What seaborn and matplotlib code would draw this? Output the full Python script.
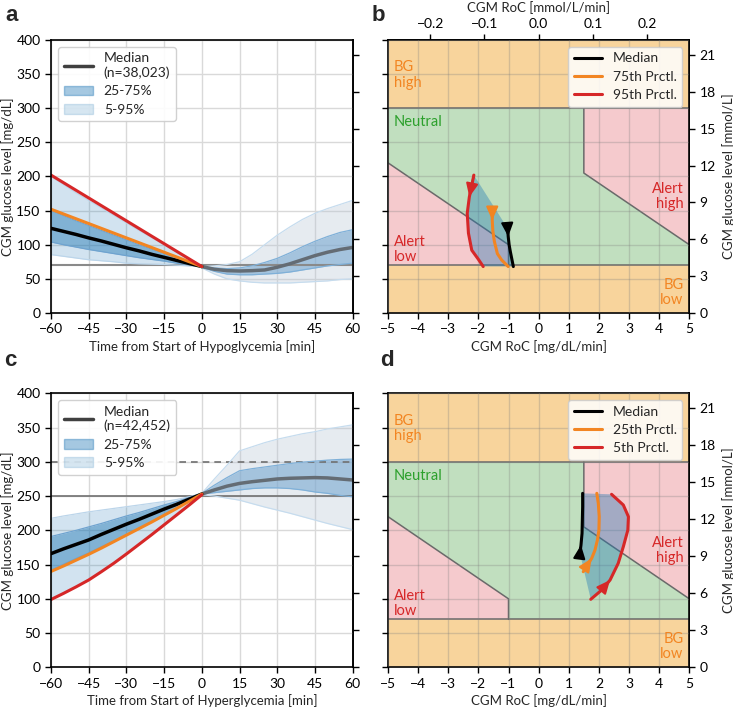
import seaborn as sns
import matplotlib.pyplot as plt
from matplotlib.lines import Line2D
from matplotlib.patches import Patch

MMOL = 18.0  # mg/dL per mmol/L

# ---- panel a / c : glucose around start of event -------------------------
t_pre = [-60, -55, -50, -45, -40, -35, -30, -25, -20, -15, -10, -5, 0]
t_post = [0, 5, 10, 15, 20, 25, 30, 35, 40, 45, 50, 55, 60]

hypo_med_pre = [124, 119.5, 115, 110, 105.5, 100.5, 95.5, 91, 86, 81.5, 77, 72.5, 68]
hypo_q25_pre = [104, 100, 96.5, 93, 90, 87, 84, 81, 78.5, 76, 73, 70.5, 68]
hypo_q75_pre = [150, 142.5, 135, 128, 121, 114, 107, 100, 93.5, 87, 80.5, 74, 68]
hypo_q05_pre = [85.5, 83, 80.5, 78, 76.5, 75, 73, 72, 71.5, 71, 70, 69, 68]
hypo_q95_pre = [200, 188, 176, 165, 154, 143, 132, 121, 110.5, 100, 89, 78.5, 68]
hypo_med_post = [68, 64, 62, 61.5, 62, 63, 67, 72, 78, 84, 89, 93, 96]
hypo_q25_post = [67, 61, 57, 56, 56, 57, 58, 60, 63, 66, 69, 71, 73]
hypo_q75_post = [68, 66, 65, 66, 69, 74, 80, 88, 97, 105, 112, 118, 122]
hypo_q05_post = [66, 57, 50, 47, 45, 44, 44, 44, 45, 46, 47, 49, 50]
hypo_q95_post = [68, 69, 71, 75, 86, 100, 114, 126, 137, 146, 153, 159, 165]
hypo_line_t = [-60, 0]
hypo_p75_line = [152, 68]
hypo_p95_line = [202, 68]

hyper_med_pre = [166, 173, 179.5, 186, 194, 201.5, 209, 216, 223.5, 231, 238, 245.5, 253]
hyper_q25_pre = [142, 150.5, 159, 167, 176, 184.5, 193, 203, 212.5, 222, 232, 242.5, 253]
hyper_q75_pre = [191, 195.5, 200, 205, 210, 215.5, 221, 226, 231.5, 237, 242, 248, 254]
hyper_q05_pre = [100, 109, 118, 128, 140, 152, 165, 179, 193.5, 208, 222.5, 237, 252]
hyper_q95_pre = [217.5, 221, 224, 227, 229.5, 232, 234.5, 237, 239.5, 242, 245, 249, 254]
hyper_med_post = [253, 259, 264.5, 268.5, 271, 273, 275, 276, 276.5, 277, 276.5, 275, 273.5]
hyper_q25_post = [253, 255, 257, 259, 261, 262, 262, 261, 259, 256, 254, 251, 249]
hyper_q75_post = [254, 266, 277, 287, 290, 292.5, 295, 297.5, 299.5, 301, 302.5, 303.5, 304]
hyper_q05_post = [252, 250, 247, 244, 239, 234, 229.5, 225, 220, 215, 210, 205.5, 201]
hyper_q95_post = [254, 275, 295, 316, 322, 328, 333, 337, 341, 344, 348, 351, 354]
hyper_line_t = t_pre
hyper_p25_line = [140, 148, 156.5, 165, 174, 183.5, 193, 202.5, 212, 222, 232, 242.5, 253]
hyper_p05_line = [99, 108, 117.5, 127.5, 139.5, 152, 165.5, 179.5, 193.5, 208, 222.5, 237, 252]

# ---- panel b / d : glucose vs rate of change ---------------------------
b_med_roc = [-1.03, -1.01, -0.98, -0.94, -0.89, -0.84]
b_med_glu = [124, 112, 100, 90, 79, 68]
b_p75_roc = [-1.54, -1.54, -1.52, -1.47, -1.37, -1.23, -1.01]
b_p75_glu = [152, 136, 120, 105, 87, 77.7, 68]
b_p95_roc = [-2.15, -2.30, -2.37, -2.33, -2.22, -2.00, -1.84]
b_p95_glu = [202, 170, 146, 117, 92, 78.6, 68]

d_med_roc = [1.37, 1.405, 1.44, 1.45, 1.46, 1.46]
d_med_glu = [166.4, 178.5, 195.6, 215, 234.5, 254]
d_p25_roc = [1.48, 1.65, 1.76, 1.87, 1.95, 2.00, 2.01, 1.98, 1.93]
d_p25_glu = [139.6, 151.8, 159.1, 171.2, 185.8, 200.4, 219.9, 239.4, 254]
d_p05_roc = [1.73, 2.09, 2.37, 2.64, 2.81, 2.96, 2.98, 2.81, 2.42]
d_p05_glu = [99.3, 112.8, 127.4, 151.8, 176.1, 200.4, 219.9, 237, 252.6]

# zone corners [RoC mg/dL/min, glucose mg/dL]
alert_high_roc = [1.5, 1.5, 5, 5]
alert_high_glu = [300, 205, 100, 300]
alert_low_roc = [-5, -5, -1, -1]
alert_low_glu = [70, 220, 100, 70]

BLUE = "tab:blue"
ORANGE = "#f28522"
RED = "#d62728"
C_ORANGE_ZONE = "#f8d49c"
C_GREEN_ZONE = "#c1dfbf"
C_RED_ZONE = "#f5cacd"

sns.set_theme(style="ticks")
plt.rcParams["font.family"] = ["Lato", "DejaVu Sans"]
plt.rcParams["axes.edgecolor"] = "black"
plt.rcParams["xtick.color"] = "black"
plt.rcParams["ytick.color"] = "black"

fig = plt.figure(figsize=(7.33, 7.10), dpi=100)


def to_mmol(v):
    return v / MMOL


def to_mgdl(v):
    return v * MMOL


def time_panel(ax, t_pre, t_post, med_pre, q25_pre, q75_pre, q05_pre, q95_pre,
               med_post, q25_post, q75_post, q05_post, q95_post,
               line_t, l1, l2, n_text, xlabel, hyper):
    ax.grid(True, color="#d9d9d9", lw=1)
    ax.set_axisbelow(True)
    # bands before start
    ax.fill_between(t_pre, q05_pre, q95_pre, color=BLUE, alpha=0.2, lw=0)
    ax.fill_between(t_pre, q25_pre, q75_pre, color=BLUE, alpha=0.45, lw=0)
    # bands after start (greyed out)
    ax.fill_between(t_post, q05_post, q95_post, color="#b8c6d6", alpha=0.35, lw=0)
    ax.fill_between(t_post, q25_post, q75_post, color="#6fa3cf", alpha=0.55, lw=0)
    for t, q, c in [(t_pre, q05_pre, "#bcd5ea"), (t_pre, q95_pre, "#bcd5ea"),
                    (t_pre, q25_pre, "#6fa3cf"), (t_pre, q75_pre, "#6fa3cf"),
                    (t_post, q05_post, "#c6dcee"), (t_post, q95_post, "#c6dcee"),
                    (t_post, q25_post, "#7fb0d8"), (t_post, q75_post, "#7fb0d8")]:
        ax.plot(t, q, color=c, lw=0.9)
    if hyper:
        ax.axhline(250, color="#707070", lw=1.2, zorder=1.8)
        ax.axhline(300, color="#707070", lw=1.2, ls=(0, (4, 3)), zorder=1.8)
    else:
        ax.axhline(70, color="#8a8a8a", lw=1.5, zorder=1.8)
    sns.lineplot(x=t_post, y=med_post, ax=ax, color="#646c74", lw=2.5)
    sns.lineplot(x=t_pre, y=med_pre, ax=ax, color="black", lw=2.5)
    sns.lineplot(x=line_t, y=l1, ax=ax, color=ORANGE, lw=2.2)
    sns.lineplot(x=line_t, y=l2, ax=ax, color=RED, lw=2.2)

    ax.set_xlim(-60, 60)
    ax.set_ylim(0, 400)
    ax.set_xticks(range(-60, 61, 15))
    ax.set_yticks(range(0, 401, 50))
    ax.set_xlabel(xlabel, fontsize=9.5, labelpad=3)
    ax.set_ylabel("CGM glucose level [mg/dL]", fontsize=9.5, labelpad=2)
    ax.tick_params(labelsize=10, length=4, width=1)
    for s in ax.spines.values():
        s.set_visible(True)
        s.set_linewidth(1.2)

    sec = ax.secondary_yaxis("right", functions=(to_mmol, to_mgdl))
    sec.set_yticks(range(0, 22, 3))
    sec.tick_params(labelright=False, length=4, width=1)

    handles = [Line2D([], [], color="#404040", lw=2.5),
               Patch(facecolor=BLUE, alpha=0.4, edgecolor=BLUE),
               Patch(facecolor=BLUE, alpha=0.18, edgecolor=BLUE)]
    ax.legend(handles, [f"Median\n(n={n_text})", "25-75%", "5-95%"],
              loc="upper left", fontsize=10, handlelength=2.1,
              borderaxespad=0.5, labelspacing=0.45, framealpha=0.9)


def roc_panel(ax, curves, labels, arrows, top_axis):
    ax.axhspan(300, 400, color=C_ORANGE_ZONE, lw=0, zorder=0.1)
    ax.axhspan(0, 70, color=C_ORANGE_ZONE, lw=0, zorder=0.1)
    ax.axhspan(70, 300, color=C_GREEN_ZONE, lw=0, zorder=0.1)
    ax.fill(alert_high_roc, alert_high_glu, color=C_RED_ZONE, lw=0, zorder=0.2)
    ax.fill(alert_low_roc, alert_low_glu, color=C_RED_ZONE, lw=0, zorder=0.2)
    ax.grid(True, color="#7f7f7f", alpha=0.3, lw=1)
    ax.set_axisbelow(False)
    bc = "#6a6a6a"
    ax.axhline(300, color=bc, lw=1.1, zorder=1.5)
    ax.axhline(70, color=bc, lw=1.1, zorder=1.5)
    ax.plot(alert_high_roc[:3], alert_high_glu[:3], color=bc, lw=1.1, zorder=1.5)
    ax.plot(alert_low_roc[1:], alert_low_glu[1:], color=bc, lw=1.1, zorder=1.5)

    (m_x, m_y), _, (e_x, e_y) = curves
    ax.fill(list(m_x) + list(e_x[::-1]), list(m_y) + list(e_y[::-1]),
            color=BLUE, alpha=0.38, lw=0, zorder=2.6)

    colors = ["black", ORANGE, RED]
    for (cx, cy), lab, c, i in zip(curves, labels, colors, arrows):
        sns.lineplot(x=cx, y=cy, ax=ax, color=c, lw=2.2, sort=False,
                     estimator=None, label=lab, zorder=3)
        ax.annotate("", xy=(cx[i + 1], cy[i + 1]), xytext=(cx[i], cy[i]),
                    arrowprops=dict(arrowstyle="-|>,head_length=1.0,head_width=0.45",
                                    color=c, lw=1.5, mutation_scale=8,
                                    shrinkA=0, shrinkB=0), zorder=3)

    tk = dict(fontsize=10.5, zorder=4)
    ax.text(-4.8, 370, "BG\nhigh", color=ORANGE, va="top", ha="left",
            linespacing=1.1, **tk)
    ax.text(-4.8, 290, "Neutral", color="#2ca02c", va="top", ha="left", **tk)
    ax.text(-4.8, 114, "Alert\nlow", color=RED, va="top", ha="left",
            linespacing=1.1, **tk)
    ax.text(4.8, 192, "Alert\nhigh", color=RED, va="top", ha="right",
            linespacing=1.1, **tk)
    ax.text(4.8, 51, "BG\nlow", color=ORANGE, va="top", ha="right",
            linespacing=1.1, **tk)

    ax.set_xlim(-5, 5)
    ax.set_ylim(0, 400)
    ax.set_xticks(range(-5, 6))
    ax.set_yticks(range(0, 401, 50))
    ax.tick_params(labelleft=False, labelsize=10, length=4, width=1)
    ax.set_xlabel("CGM RoC [mg/dL/min]", fontsize=9.5, labelpad=3)
    ax.set_ylabel("")
    for s in ax.spines.values():
        s.set_visible(True)
        s.set_linewidth(1.2)

    sec = ax.secondary_yaxis("right", functions=(to_mmol, to_mgdl))
    sec.set_yticks(range(0, 22, 3))
    sec.tick_params(labelsize=10, length=4, width=1)
    sec.set_ylabel("CGM glucose level [mmol/L]", fontsize=9.5, labelpad=4)
    if top_axis:
        top = ax.secondary_xaxis("top", functions=(to_mmol, to_mgdl))
        top.set_xticks([-0.2, -0.1, 0.0, 0.1, 0.2])
        top.tick_params(labelsize=10, length=4, width=1)
        top.set_xlabel("CGM RoC [mmol/L/min]", fontsize=9.5, labelpad=4)

    ax.legend(loc="upper right", fontsize=10, handlelength=2.0,
              borderaxespad=0.5, labelspacing=0.45, framealpha=0.85)


ax_a = fig.add_axes([0.0696, 0.5592, 0.4115, 0.3845])
ax_b = fig.add_axes([0.5293, 0.5592, 0.4111, 0.3845])
ax_c = fig.add_axes([0.0696, 0.0601, 0.4115, 0.3859])
ax_d = fig.add_axes([0.5293, 0.0601, 0.4111, 0.3859])

time_panel(ax_a, t_pre, t_post, hypo_med_pre, hypo_q25_pre, hypo_q75_pre,
           hypo_q05_pre, hypo_q95_pre, hypo_med_post, hypo_q25_post,
           hypo_q75_post, hypo_q05_post, hypo_q95_post,
           hypo_line_t, hypo_p75_line, hypo_p95_line, "38,023",
           "Time from Start of Hypoglycemia [min]", hyper=False)
time_panel(ax_c, t_pre, t_post, hyper_med_pre, hyper_q25_pre, hyper_q75_pre,
           hyper_q05_pre, hyper_q95_pre, hyper_med_post, hyper_q25_post,
           hyper_q75_post, hyper_q05_post, hyper_q95_post,
           hyper_line_t, hyper_p25_line, hyper_p05_line, "42,452",
           "Time from Start of Hyperglycemia [min]", hyper=True)

roc_panel(ax_b, [(b_med_roc, b_med_glu), (b_p75_roc, b_p75_glu), (b_p95_roc, b_p95_glu)],
          ["Median", "75th Prctl.", "95th Prctl."], [0, 0, 0], top_axis=True)
roc_panel(ax_d, [(d_med_roc, d_med_glu), (d_p25_roc, d_p25_glu), (d_p05_roc, d_p05_glu)],
          ["Median", "25th Prctl.", "5th Prctl."], [0, 1, 1], top_axis=False)

for x, y, s in [(5, 705, "a"), (372, 705, "b"), (4, 360, "c"), (380, 360, "d")]:
    fig.text(x / 733, y / 710, s, fontsize=16, fontweight="bold",
             family="Liberation Sans", va="top", ha="left")

fig.savefig("out.png", dpi=100)
